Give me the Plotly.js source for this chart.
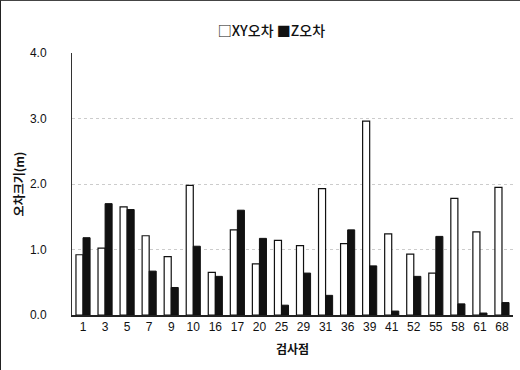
<!DOCTYPE html>
<html><head><meta charset="utf-8">
<script src="https://cdn.plot.ly/plotly-3.0.1.min.js"></script>
<style>html,body{margin:0;padding:0;background:#fff}#chart{width:520px;height:370px;box-sizing:border-box;border-left:1px solid #222;border-top:1px solid #444}</style>
</head><body><div id="chart"></div>
<script>
const categories = ["1","3","5","7","9","10","16","17","20","25","29","31","36","39","41","52","55","58","61","68"];
const xyError = [0.92,1.02,1.65,1.21,0.89,1.98,0.65,1.30,0.78,1.14,1.06,1.93,1.09,2.96,1.24,0.93,0.64,1.78,1.27,1.95];
const zError  = [1.18,1.70,1.61,0.67,0.42,1.05,0.59,1.60,1.17,0.15,0.64,0.30,1.30,0.75,0.06,0.59,1.20,0.17,0.03,0.19];
const yTicks = [0,1,2,3,4];
const seriesNames = ['XY오차','Z오차'];

const korean = '"Noto Sans CJK KR", "Liberation Sans", Arial, sans-serif';
const latin = '"Liberation Sans", Arial, sans-serif';

const traces = [
  {type:'bar', name:seriesNames[0], x:categories, y:xyError,
   marker:{color:'#ffffff', line:{color:'#111', width:1.2}}},
  {type:'bar', name:seriesNames[1], x:categories, y:zError,
   marker:{color:'#111111', line:{color:'#111', width:1}}}
];
const layout = {
  width:520, height:370,
  margin:{l:71, r:8, t:52, b:56},
  paper_bgcolor:'rgba(0,0,0,0)', plot_bgcolor:'#fff',
  barmode:'group', bargap:0.36, bargroupgap:0,
  font:{family:latin, size:12, color:'#111'},
  showlegend:false,
  title:{text:'□' + seriesNames[0] + ' ■' + seriesNames[1], x:0.52, xanchor:'center', y:0.918, yanchor:'middle',
         font:{family:korean, size:14, color:'#111', weight:500}},
  xaxis:{type:'category', showline:true, linecolor:'#222', linewidth:1.5,
         ticks:'', tickfont:{family:latin, size:12, color:'#111'},
         title:{text:'검사점', font:{family:korean, size:12, color:'#111', weight:'bold'}, standoff:12}},
  yaxis:{range:[0,4], tickvals:yTicks, tickformat:'.1f', showline:true, linecolor:'#333',
         linewidth:1, ticks:'', ticklabelstandoff:22,
         showgrid:true, gridcolor:'#ccc', griddash:'dot', gridwidth:1, zeroline:false,
         tickfont:{family:latin, size:12, color:'#111'},
         title:{text:'오차크기(m)', font:{family:korean, size:12, color:'#111', weight:'bold'}, standoff:2}}
};
Plotly.newPlot('chart', traces, layout, {displayModeBar:false, staticPlot:true});
</script></body></html>
